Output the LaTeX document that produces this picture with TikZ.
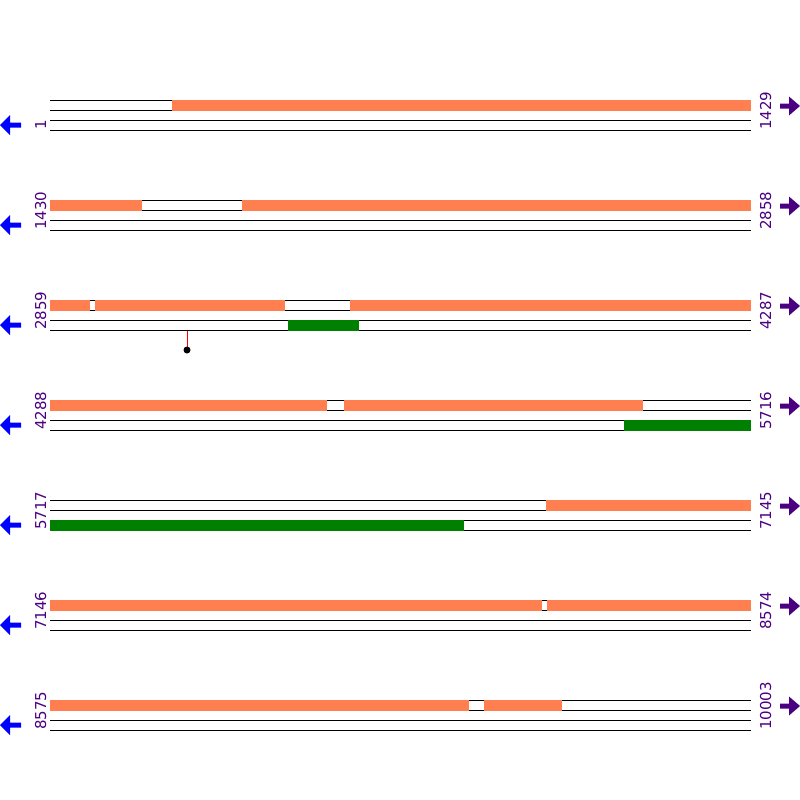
\documentclass[tikz,border=0pt]{standalone}
\usepackage{fontspec}
\setmainfont{DejaVu Sans}
\usetikzlibrary{positioning}
\definecolor{exoncol}{HTML}{FF7F50}
\definecolor{orfcol}{HTML}{008000}
\definecolor{poscol}{HTML}{4B0082}

\begin{document}
\begin{tikzpicture}[x=1pt,y=-1pt,
    strand/.style={black,line width=1pt},
    exonbar/.style={fill=exoncol},
    orfbar/.style={fill=orfcol},
    poslabel/.style={rotate=90,anchor=base west,inner sep=0pt,text=poscol,font=\fontsize{15}{15}\selectfont}]
    \useasboundingbox (0,0) rectangle (800,800);

    % strands, position labels and direction arrows per row
    \foreach \r/\a/\b in {0/1/1429,1/1430/2858,2/2859/4287,3/4288/5716,4/5717/7145,5/7146/8574,6/8575/10003}{
        \pgfmathsetmacro{\y}{100+100*\r}
        \foreach \d in {0,10,20,30}
            \draw[strand] (50,\y+\d) -- (751,\y+\d);
        \node[poslabel] (start\r) at (46,\y+30) {\a};
        \node[poslabel] (end\r) at (771,\y+30) {\b};
        \fill[blue] (0,\y+25) -- (10,\y+15) -- (10,\y+22.5) -- (21,\y+22.5) -- (21,\y+27.5)
            -- (10,\y+27.5) -- (10,\y+35) -- cycle;
        \fill[poscol] (800,\y+6) -- (789,\y-3.5) -- (789,\y+3.5) -- (780,\y+3.5) -- (780,\y+8.5)
            -- (789,\y+8.5) -- (789,\y+15.5) -- cycle;
    }

    % exons on the upper strand
    \foreach \y/\xa/\xb in {100/172/751, 200/50/142, 200/242/751, 300/50/90, 300/95/285, 300/350/751,
        400/50/327, 400/344/643, 500/546/751, 600/50/542, 600/547/751, 700/50/469, 700/484/562}
        \fill[exonbar] (\xa,\y-0.5) rectangle (\xb,\y+10.5);

    % open reading frames on the lower strand
    \foreach \y/\xa/\xb in {320/288/359, 420/624/751, 520/50/464}
        \fill[orfbar] (\xa,\y-0.5) rectangle (\xb,\y+10.5);

    % marker
    \draw[red] (187,330.5) -- (187,348);
    \fill (187,350) circle[radius=3.5];
\end{tikzpicture}
\end{document}
